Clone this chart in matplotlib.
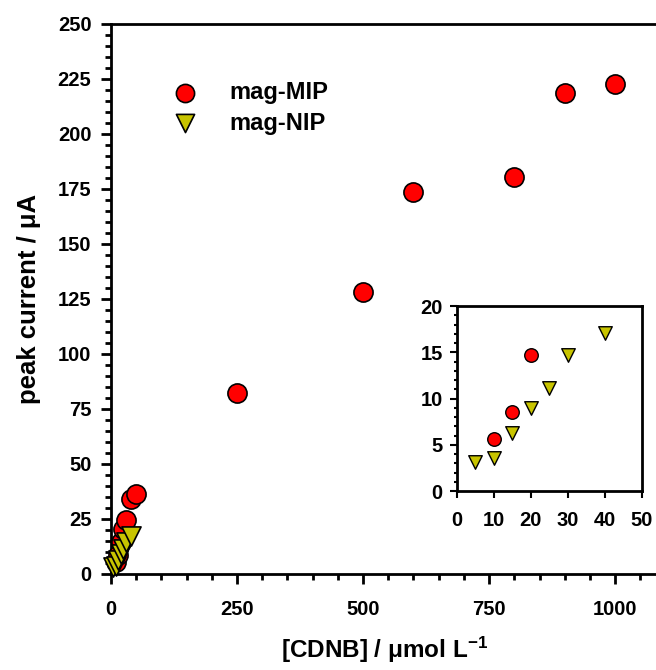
import matplotlib.pyplot as plt
from matplotlib.ticker import MultipleLocator

plt.rcParams['font.family'] = ['Liberation Sans', 'DejaVu Sans']
plt.rcParams['font.weight'] = 'bold'
plt.rcParams['axes.labelweight'] = 'bold'
plt.rcParams['mathtext.fontset'] = 'custom'
plt.rcParams['mathtext.rm'] = 'Liberation Sans:bold'
plt.rcParams['mathtext.default'] = 'rm'

# mag-MIP, main range
mip_x = [10, 15, 20, 25, 30, 40, 50, 250, 500, 600, 800, 900, 1000]
mip_y = [5.6, 8.6, 14.7, 20.5, 24.5, 34.0, 36.3, 82.2, 128.0, 173.6, 180.5, 218.5, 222.5]
# mag-NIP
nip_x = [5, 10, 15, 20, 25, 30, 40]
nip_y = [3.1, 3.6, 6.3, 9.0, 11.2, 14.7, 17.1]
# inset shows the low range only
ins_mip_x = [10, 15, 20]
ins_mip_y = [5.6, 8.6, 14.7]

red = '#ff0000'
olive = '#c8c400'

fig = plt.figure(figsize=(6.56, 6.70), dpi=100)
ax = fig.add_axes([0.169, 0.1433, 0.835, 0.821])

ax.scatter(mip_x, mip_y, s=190, c=red, edgecolors='black', linewidths=1.2,
           zorder=3, label='mag-MIP', clip_on=False)
ax.scatter(nip_x, nip_y, s=190, c=olive, marker='v', edgecolors='black',
           linewidths=1.2, zorder=4, label='mag-NIP', clip_on=False)

ax.set_xlim(0, 1086)
ax.set_ylim(0, 250)
ax.xaxis.set_major_locator(MultipleLocator(250))
ax.xaxis.set_minor_locator(MultipleLocator(50))
ax.yaxis.set_major_locator(MultipleLocator(25))
ax.yaxis.set_minor_locator(MultipleLocator(5))
ax.tick_params(which='both', direction='out', width=2, labelsize=14.5)
ax.tick_params(which='major', length=7, pad=7)
ax.tick_params(axis='x', which='major', pad=12)
ax.tick_params(which='minor', length=4)
for s in ['left', 'bottom', 'top']:
    ax.spines[s].set_linewidth(2)
ax.spines['right'].set_visible(False)

ax.set_xlabel('[CDNB] / \u03bcmol L$^{-1}$', fontsize=17.5, labelpad=11)
ax.set_ylabel('peak current / \u03bcA', fontsize=18.5, labelpad=12)

ax.legend(loc='upper left', bbox_to_anchor=(0.053, 0.934), frameon=False,
          fontsize=17, markerscale=0.95, handletextpad=0.9, labelspacing=0.3)

# inset
ins = fig.add_axes([0.696, 0.267, 0.282, 0.276])
ins.scatter(ins_mip_x, ins_mip_y, s=95, c=red, edgecolors='black',
            linewidths=1.0, zorder=3)
ins.scatter(nip_x, nip_y, s=95, c=olive, marker='v', edgecolors='black',
            linewidths=1.0, zorder=3)
ins.set_xlim(0, 50)
ins.set_ylim(0, 20)
ins.xaxis.set_major_locator(MultipleLocator(10))
ins.yaxis.set_major_locator(MultipleLocator(5))
ins.yaxis.set_minor_locator(MultipleLocator(1))
ins.tick_params(which='both', direction='out', width=1.5, labelsize=14.5)
ins.tick_params(which='major', length=5, pad=5)
ins.tick_params(axis='x', which='major', pad=9)
ins.tick_params(which='minor', length=2.5)
for s in ins.spines.values():
    s.set_linewidth(2)

fig.savefig('out.png', dpi=100)
